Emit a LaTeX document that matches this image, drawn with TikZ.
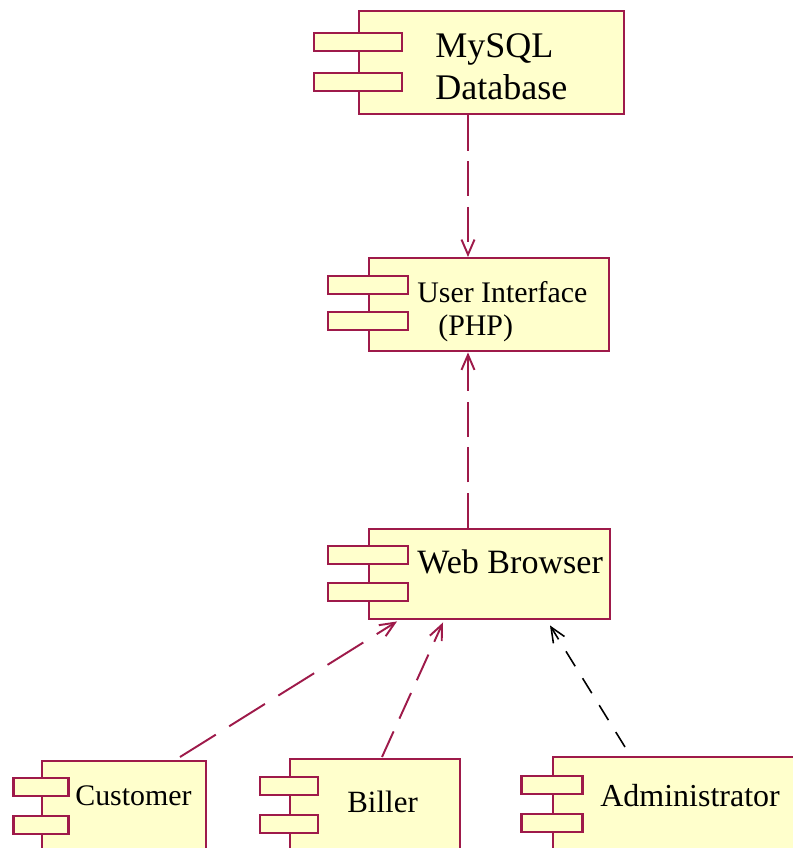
\documentclass[tikz,border=0pt]{standalone}
\usepackage{fontspec}
\setmainfont{Liberation Serif}
\usetikzlibrary{arrows.meta,calc}
\definecolor{wine}{HTML}{9E1A4A}
\definecolor{cream}{HTML}{FFFFCC}

\begin{document}
\begin{tikzpicture}[x=0.02cm,y=-0.02cm,>={Straight Barb[length=3mm,width=2.6mm]},
  comp/.style={draw=wine,fill=cream,line width=1.4pt,anchor=north west,inner sep=0pt},
  tab/.style={draw=wine,fill=cream,line width=1.4pt,inner sep=0pt,minimum height=0.37cm},
  lbl/.style={anchor=base west,inner sep=0pt},
  dep/.style={->,wine,line width=1.1pt,dash pattern=on 20pt off 6pt}]
  \useasboundingbox (0,0) rectangle (792,848);
  % components
  \node[comp,minimum width=5.3cm,minimum height=2.06cm] (db) at (358,10) {};
  \node[comp,minimum width=4.8cm,minimum height=1.86cm] (ui) at (368,257) {};
  \node[comp,minimum width=4.82cm,minimum height=1.8cm] (wb) at (368,528) {};
  \node[comp,minimum width=3.28cm,minimum height=2.4cm] (cu) at (41,760) {};
  \node[comp,minimum width=3.4cm,minimum height=2.4cm] (bi) at (289,758) {};
  \node[comp,minimum width=5.16cm,minimum height=2.4cm] (ad) at (552,756) {};
  % the two tabs on the left side
  \foreach \c/\w/\a/\b in {db/1.76cm/32/72,ui/1.6cm/28/64,wb/1.6cm/27/64,
                           cu/1.1cm/27/65,bi/1.16cm/28/66,ad/1.22cm/29/67}{
    \node[tab,minimum width=\w] (\c-tab1) at ($(\c.north west)+(0,\a)$) {};
    \node[tab,minimum width=\w] (\c-tab2) at ($(\c.north west)+(0,\b)$) {};
  }
  % names
  \node[lbl,font=\fontsize{20.5}{24}\selectfont] (db-name1) at (435,58) {MySQL};
  \node[lbl,font=\fontsize{20.5}{24}\selectfont] (db-name2) at (435,99) {Database};
  \node[lbl,font=\fontsize{17}{20}\selectfont] (ui-name1) at (417,302) {User Interface};
  \node[lbl,font=\fontsize{17}{20}\selectfont] (ui-name2) at (438,335) {(PHP)};
  \node[lbl,font=\fontsize{19.4}{23}\selectfont] (wb-name) at (417,573) {Web Browser};
  \node[lbl,font=\fontsize{17}{20}\selectfont] (cu-name) at (75,805) {Customer};
  \node[lbl,font=\fontsize{17.6}{21}\selectfont] (bi-name) at (347,812) {Biller};
  \node[lbl,font=\fontsize{18.2}{22}\selectfont] (ad-name) at (600,806) {Administrator};
  % dependencies
  \draw[dep] ($(db.south west)+(110,0)$) -- ($(ui.north west)+(100,0)$);
  \draw[dep] ($(wb.north west)+(100,0)$) -- ($(ui.south west)+(100,0)$);
  \draw[dep,dash pattern=on 24pt off 9pt] ($(cu.north west)+(139,-3)$) -- ($(wb.south west)+(29,1)$);
  \draw[dep,dash pattern=on 16pt off 8pt] ($(bi.north west)+(93,-1)$) -- ($(wb.south west)+(75,2)$);
  \draw[dep,black,line width=0.9pt,dash pattern=on 10pt off 8pt] ($(ad.north west)+(73,-9)$) -- ($(wb.south west)+(182,5)$);
\end{tikzpicture}
\end{document}
